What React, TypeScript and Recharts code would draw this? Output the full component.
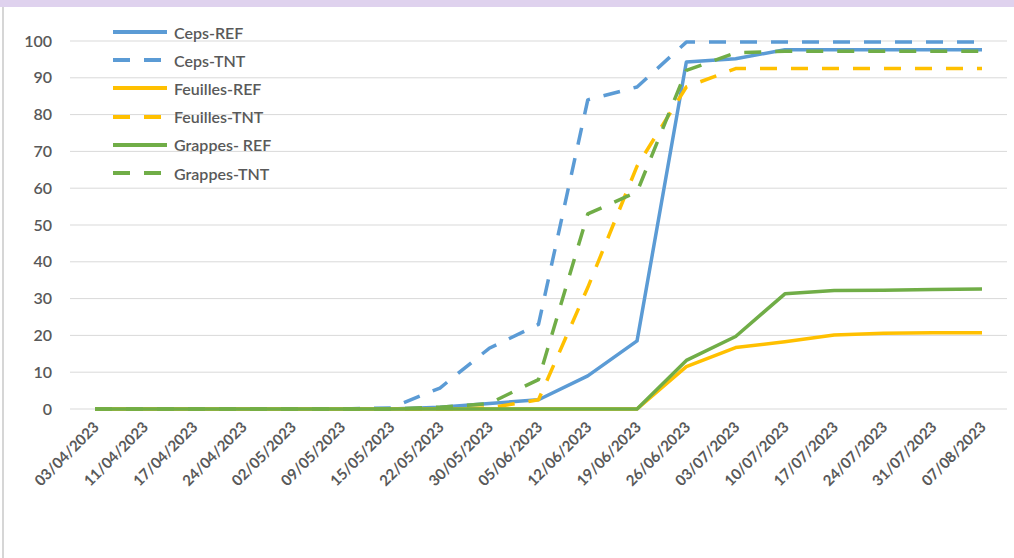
import { LineChart, Line, XAxis, YAxis, CartesianGrid } from 'recharts';

const dates = [
  '03/04/2023', '11/04/2023', '17/04/2023', '24/04/2023', '02/05/2023',
  '09/05/2023', '15/05/2023', '22/05/2023', '30/05/2023', '05/06/2023',
  '12/06/2023', '19/06/2023', '26/06/2023', '03/07/2023', '10/07/2023',
  '17/07/2023', '24/07/2023', '31/07/2023', '07/08/2023',
];

const cepsRef = [0, 0, 0, 0, 0, 0, 0, 0.5, 1.5, 2.5, 9, 18.5, 94.3, 95.2, 97.6, 97.6, 97.6, 97.6, 97.6];
const cepsTnt = [0, 0, 0, 0, 0, 0, 0.3, 5.7, 16.5, 23, 84, 87.5, 99.7, 99.7, 99.7, 99.7, 99.7, 99.7, 99.7];
const feuillesRef = [0, 0, 0, 0, 0, 0, 0, 0, 0, 0, 0, 0, 11.5, 16.7, 18.3, 20.1, 20.6, 20.7, 20.7];
const feuillesTnt = [0, 0, 0, 0, 0, 0, 0, 0, 0.3, 2.5, 33, 66, 87.5, 92.5, 92.5, 92.5, 92.5, 92.5, 92.5];
const grappesRef = [0, 0, 0, 0, 0, 0, 0, 0, 0, 0, 0, 0, 13.2, 19.7, 31.3, 32.2, 32.3, 32.5, 32.6];
const grappesTnt = [0, 0, 0, 0, 0, 0, 0, 0.5, 1.5, 8, 53, 59, 92, 96.8, 97.2, 97.2, 97.2, 97.2, 97.2];

const yTicks = [0, 10, 20, 30, 40, 50, 60, 70, 80, 90, 100];

const series = [
  { key: 'cepsRef', name: 'Ceps-REF', values: cepsRef, color: '#5B9BD5', dashed: false },
  { key: 'cepsTnt', name: 'Ceps-TNT', values: cepsTnt, color: '#5B9BD5', dashed: true },
  { key: 'feuillesRef', name: 'Feuilles-REF', values: feuillesRef, color: '#FFC000', dashed: false },
  { key: 'feuillesTnt', name: 'Feuilles-TNT', values: feuillesTnt, color: '#FFC000', dashed: true },
  { key: 'grappesRef', name: 'Grappes- REF', values: grappesRef, color: '#70AD47', dashed: false },
  { key: 'grappesTnt', name: 'Grappes-TNT', values: grappesTnt, color: '#70AD47', dashed: true },
];

const data = dates.map((date, i) => {
  const row: Record<string, string | number> = { date };
  series.forEach((s) => {
    row[s.key] = s.values[i];
  });
  return row;
});

const FONT = 'Lato, "Liberation Sans", sans-serif';
const TEXT = '#595959';
const DASH = '17 14';

function DateTick({ x, y, payload }: any) {
  const ax = x + 5;
  const ay = y + 11;
  return (
    <text
      x={ax}
      y={ay}
      transform={`rotate(-45 ${ax} ${ay})`}
      textAnchor="end"
      fontFamily={FONT}
      fontSize={15}
      fontWeight={700}
      fill={TEXT}
    >
      {payload.value}
    </text>
  );
}

// plot starts at x=70, labels end ~18px left of it
function ValueTick({ y, payload }: any) {
  return (
    <text x={52} y={y} dy="0.355em" textAnchor="end" fontFamily={FONT} fontSize={16} fontWeight={600} fill={TEXT}>
      {payload.value}
    </text>
  );
}

function ChartLegend() {
  return (
    <div style={{ position: 'absolute', left: 113, top: 18, fontFamily: FONT }}>
      {series.map((s) => (
        <div key={s.key} style={{ display: 'flex', alignItems: 'center', height: 28.2 }}>
          <svg width={56} height={8} style={{ display: 'block' }}>
            <line
              x1={0}
              y1={4}
              x2={54}
              y2={4}
              stroke={s.color}
              strokeWidth={4}
              strokeDasharray={s.dashed ? DASH + ' 17' : undefined}
            />
          </svg>
          <span style={{ marginLeft: 5, fontSize: 16, fontWeight: 600, color: TEXT }}>{s.name}</span>
        </div>
      ))}
    </div>
  );
}

export default function App() {
  return (
    <div style={{ position: 'fixed', left: 0, top: 0, width: 1014, height: 558, background: '#fff', overflow: 'hidden' }}>
      <div style={{ position: 'absolute', left: 0, top: 0, width: 1014, height: 7, background: '#DFD2EE' }} />
      <div style={{ position: 'absolute', left: 2, top: 7, width: 2, height: 551, background: '#D6D6D6' }} />
      <div style={{ position: 'absolute', left: 0, top: 0 }}>
        <LineChart width={1014} height={558} data={data} margin={{ top: 41, right: 7, left: 10, bottom: 49 }}>
          <CartesianGrid vertical={false} stroke="#D9D9D9" strokeWidth={1} />
          <XAxis
            dataKey="date"
            interval={0}
            tickLine={false}
            axisLine={false}
            height={100}
            padding={{ left: 25, right: 25 }}
            tick={<DateTick />}
          />
          <YAxis
            domain={[0, 100]}
            ticks={yTicks}
            width={60}
            tickLine={false}
            axisLine={false}
            tick={<ValueTick />}
          />
          {series.map((s) => (
            <Line
              key={s.key}
              dataKey={s.key}
              name={s.name}
              type="linear"
              stroke={s.color}
              strokeWidth={3.5}
              strokeDasharray={s.dashed ? DASH : undefined}
              strokeLinejoin="round"
              dot={false}
              activeDot={false}
              isAnimationActive={false}
            />
          ))}
        </LineChart>
      </div>
      <ChartLegend />
    </div>
  );
}
